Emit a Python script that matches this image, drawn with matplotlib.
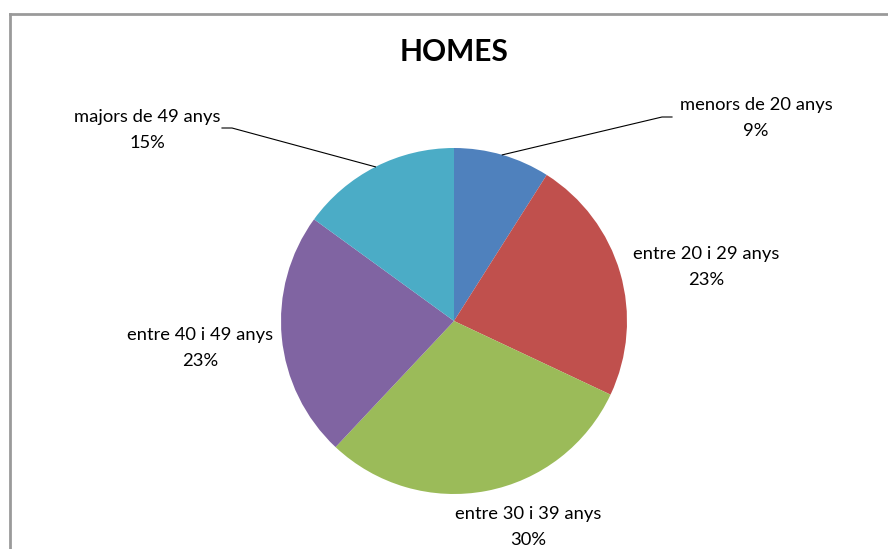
import numpy as np
import matplotlib
matplotlib.use("Agg")
import matplotlib.pyplot as plt
from matplotlib.lines import Line2D

categories = ["menors de 20 anys", "entre 20 i 29 anys", "entre 30 i 39 anys",
              "entre 40 i 49 anys", "majors de 49 anys"]
values = [9, 23, 30, 23, 15]
colors = ["#4F81BD", "#C0504D", "#9BBB59", "#8064A2", "#4BACC6"]

W, H = 888, 549
plt.rcParams['font.family'] = ['Lato', 'DejaVu Sans']

fig = plt.figure(figsize=(W / 100, H / 100), dpi=100)
ax = fig.add_axes([0, 0, 1, 1])
ax.set_xlim(0, W)
ax.set_ylim(0, H)
ax.set_aspect('equal')
ax.axis('off')

cx, cy, r = 454, H - 321, 173
wedges, _ = ax.pie(values, colors=colors, startangle=90, counterclock=False,
                   center=(cx, cy), radius=r, wedgeprops=dict(linewidth=0))
ax.set_xlim(0, W)
ax.set_ylim(0, H)

# label anchor positions (pixels from top-left) and leader line elbows
label_pos = [(756, 118), (706, 267), (528, 527), (200, 348), (147, 130)]
elbows = {0: (672, 117), 4: (222, 128)}

for i, (w, cat, v) in enumerate(zip(wedges, categories, values)):
    lx, ly = label_pos[i]
    ax.text(lx, H - ly, f"{cat}\n{v}%", ha='center', va='center',
            fontsize=13.2, linespacing=1.75, color='#000000')
    if i in elbows:
        ang = np.deg2rad((w.theta1 + w.theta2) / 2)
        ex, ey = cx + r * np.cos(ang), cy + r * np.sin(ang)
        bx, by = elbows[i]
        bx2 = bx - 10 if i == 0 else bx + 10
        ax.add_line(Line2D([ex, bx2, bx], [ey, H - by, H - by], color='black', lw=0.8))

ax.text(cx, H - 52, "HOMES", ha='center', va='center', fontsize=21.5, fontweight='bold')

# chart border (top and left edges visible)
ax.add_line(Line2D([9.5, W], [H - 14, H - 14], color='#9a9a9a', lw=2))
ax.add_line(Line2D([9.5, 9.5], [0, H - 14], color='#9a9a9a', lw=2))

fig.savefig("out.png", dpi=100, facecolor='white')
